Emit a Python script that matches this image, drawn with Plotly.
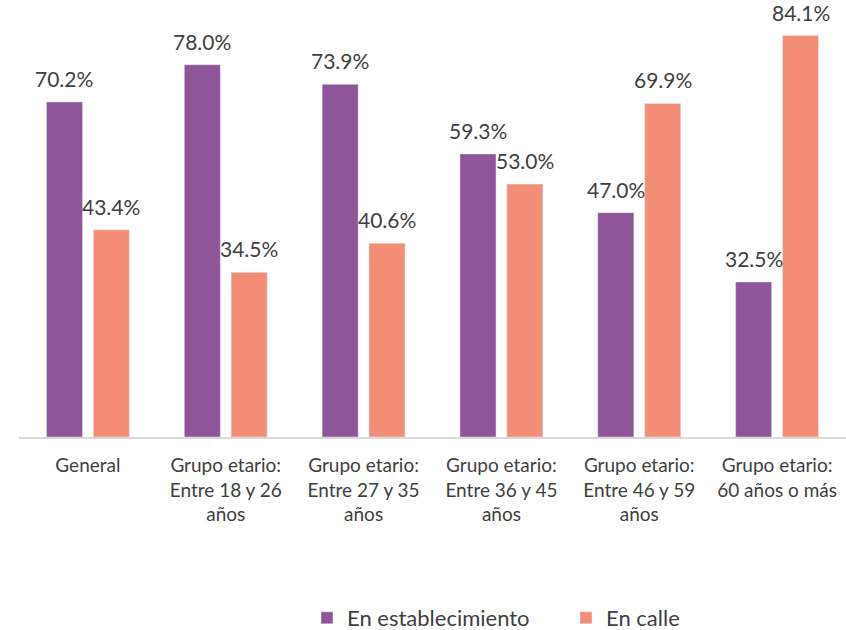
import plotly.graph_objects as go

categories = ["General", "Grupo etario:<br>Entre 18 y 26<br>años", "Grupo etario:<br>Entre 27 y 35<br>años",
              "Grupo etario:<br>Entre 36 y 45<br>años", "Grupo etario:<br>Entre 46 y 59<br>años",
              "Grupo etario:<br>60 años o más"]
establecimiento = [70.2, 78.0, 73.9, 59.3, 47.0, 32.5]
calle = [43.4, 34.5, 40.6, 53.0, 69.9, 84.1]

purple = "#8E5698"
orange = "#F28E75"
txt = "#404040"
font = "Lato"

fig = go.Figure()
fig.add_trace(go.Bar(x=categories, y=establecimiento, name="En establecimiento", marker_color=purple))
fig.add_trace(go.Bar(x=categories, y=calle, name="En calle", marker_color=orange))

BARGAP = 0.32
ML, MR = 19, 0
plot_w = 846 - ML - MR
slot = plot_w / len(categories) * (1 - BARGAP) / 2
for series, shift in ((establecimiento, -slot / 2), (calle, slot / 2)):
    for c, v in zip(categories, series):
        fig.add_annotation(x=c, y=v, text=f"{v:.1f}%", showarrow=False, xshift=shift,
                           yanchor="bottom", yshift=9,
                           font=dict(size=21, color=txt, family=font))

fig.update_layout(
    width=846, height=630,
    margin=dict(l=ML, r=MR, t=17, b=193, autoexpand=False),
    plot_bgcolor="white", paper_bgcolor="white",
    barmode="group", bargap=BARGAP, bargroupgap=0.23,
    font=dict(family=font, color=txt),
    xaxis=dict(showline=True, linecolor="#d9d9d9", linewidth=2, tickfont=dict(size=19, color=txt),
               ticks="", showgrid=False, automargin=False, ticklabelstandoff=10),
    yaxis=dict(range=[0, 88], visible=False, showgrid=False, zeroline=False),
    legend=dict(orientation="h", xref="container", yref="container", x=307/846, xanchor="left",
                y=12/630, yanchor="middle",
                font=dict(size=22, color=txt), entrywidth=214, itemwidth=30),
    showlegend=True,
)
fig.write_html("out.html", config={"displayModeBar": False},
               post_script="document.body.style.margin='0';document.body.style.overflow='hidden';")
